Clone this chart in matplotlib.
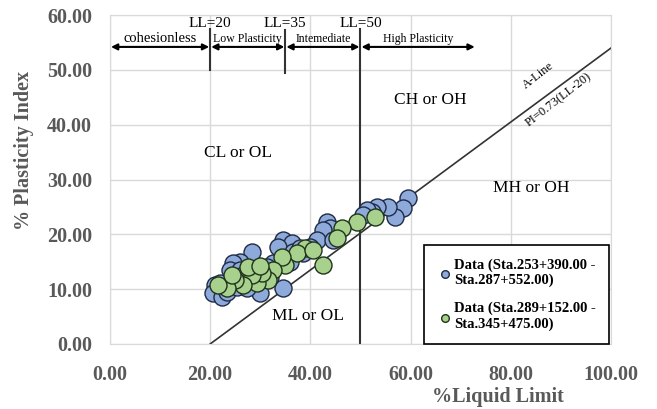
import matplotlib.pyplot as plt
import numpy as np

plt.rcParams['font.family'] = ['Liberation Serif', 'DejaVu Serif']

# data (LL, PI)
ll_blue = [59.5, 58.5, 56.9, 55.5, 53.3, 52.3, 51.3, 50.5, 43.3, 43.9, 42.5, 41.3,
           44.5, 34.5, 36.3, 33.5, 36.5, 34.5, 28.3, 25.9, 24.6, 24.0, 21.0, 20.6,
           22.4, 23.4, 25.3, 27.9, 29.9, 31.9, 32.5, 35.9, 38.5, 39.9, 25.9, 29.3,
           31.3, 27.3, 24.6, 37.9, 26.5, 22.0]
pi_blue = [26.6, 24.8, 23.2, 25.0, 25.0, 24.1, 24.4, 23.5, 22.3, 21.2, 20.8, 19.0,
           19.0, 19.0, 18.4, 17.7, 16.8, 10.2, 16.8, 15.0, 14.8, 13.5, 10.8, 9.3,
           8.6, 9.5, 10.4, 11.7, 9.3, 12.2, 14.8, 15.0, 16.6, 17.7, 13.5, 13.5,
           14.0, 10.2, 12.0, 17.5, 12.6, 11.2]

ll_green = [52.9, 49.3, 46.3, 45.3, 42.5, 38.9, 37.3, 34.9, 34.3, 32.5, 31.5, 29.3,
            30.3, 28.3, 26.5, 25.0, 23.4, 21.6, 24.4, 27.5, 30.0, 40.5]
pi_green = [23.2, 22.3, 21.2, 19.3, 14.4, 17.5, 16.6, 14.4, 15.9, 13.5, 11.7, 11.1,
            12.9, 12.6, 10.8, 11.7, 10.2, 10.8, 12.6, 14.0, 14.3, 17.2]

aline_ll = [20, 100]
aline_pi = [0, 54]

limits = [20, 35, 50]
zones = ['cohesionless', 'Low Plasticity', 'Intemediate', 'High Plasticity']
zone_edges = [0, 20, 35, 50, 73]

fig = plt.figure(figsize=(6.57, 4.09), dpi=100)
ax = fig.add_axes([0.1674, 0.159, 0.7626, 0.804])

ax.set_xlim(0, 100)
ax.set_ylim(0, 60)
ax.set_xticks(np.arange(0, 101, 20))
ax.set_yticks(np.arange(0, 61, 10))
ax.set_xticklabels(['%.2f' % v for v in np.arange(0, 101, 20)])
ax.set_yticklabels(['%.2f' % v for v in np.arange(0, 61, 10)])
ax.grid(True, color='#d9d9d9', linewidth=1)
ax.set_axisbelow(True)
for s in ax.spines.values():
    s.set_color('#d9d9d9')
ax.tick_params(length=0, labelsize=14.5, labelcolor='#595959')
ax.tick_params(axis='x', pad=15)
ax.tick_params(axis='y', pad=13)
for t in ax.get_xticklabels() + ax.get_yticklabels():
    t.set_fontweight('bold')

ax.set_xlabel('%Liquid Limit', fontsize=14.5, fontweight='bold', color='#595959')
ax.xaxis.set_label_coords(0.775, -0.13)
ax.set_ylabel('% Plasticity Index', fontsize=14.5, fontweight='bold', color='#595959')
ax.yaxis.set_label_coords(-0.152, 0.59)

# A-line
ax.plot(aline_ll, aline_pi, color='#333333', linewidth=1.2, zorder=2)

# LL lines
ax.plot([20, 20], [50, 57.5], color='#333333', linewidth=1.5)
ax.plot([35, 35], [49.5, 57.2], color='#333333', linewidth=1.5)
ax.plot([50, 50], [0, 57.5], color='#333333', linewidth=1.5)
for v in limits:
    ax.text(v, 57.3, 'LL=%d' % v, ha='center', va='bottom', fontsize=11)

for i, z in enumerate(zones):
    a, b = zone_edges[i], zone_edges[i + 1]
    ax.annotate('', xy=(a + 0.2, 54.2), xytext=(b - 0.2, 54.2),
                arrowprops=dict(arrowstyle='<|-|>', color='black', lw=1.5,
                                mutation_scale=9, shrinkA=0, shrinkB=0))
    ax.text((a + b) / 2, 54.5, z, ha='center', va='bottom',
            fontsize=10.5 if i == 0 else 8.5)

ax.text(25.5, 34.8, 'CL or OL', ha='center', va='center', fontsize=12.5)
ax.text(64, 44.5, 'CH or OH', ha='center', va='center', fontsize=12.5)
ax.text(84, 28.5, 'MH or OH', ha='center', va='center', fontsize=12.5)
ax.text(39.5, 5.1, 'ML or OL', ha='center', va='center', fontsize=12.5)
ax.text(85.5, 49.0, 'A-Line', ha='center', va='center', fontsize=9, rotation=38)
ax.text(89.5, 44.5, 'PI=0.73(LL-20)', ha='center', va='center', fontsize=9, rotation=38)

ax.scatter(ll_blue, pi_blue, s=150, color='#8eaadb', edgecolor='#1f2a44',
           linewidth=1, zorder=3, label='Data (Sta.253+390.00 -\nSta.287+552.00)')
ax.scatter(ll_green, pi_green, s=150, color='#a9d18e', edgecolor='#1f3319',
           linewidth=1, zorder=4, label='Data (Sta.289+152.00 -\nSta.345+475.00)')

leg = ax.legend(loc='lower right', bbox_to_anchor=(0.996, 0.0), borderaxespad=0,
                fancybox=False, edgecolor='black', framealpha=1,
                prop={'weight': 'bold', 'size': 10.5}, markerscale=0.45,
                handletextpad=0.0, labelspacing=1.0, borderpad=0.9,
                handlelength=1.2)
leg.get_frame().set_linewidth(1.2)

fig.savefig('out.png', dpi=100)
